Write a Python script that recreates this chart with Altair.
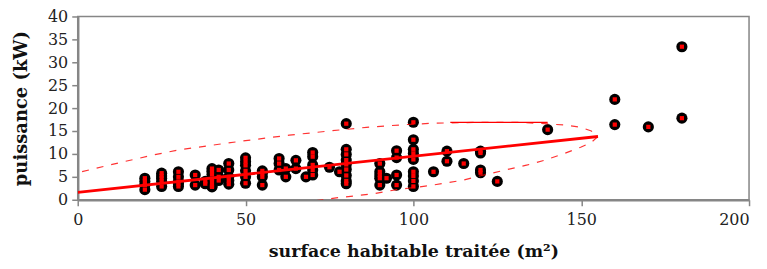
import altair as alt
import pandas as pd

# ---- data ----
surface = [
    20, 20, 20, 20,
    25, 25, 25, 25, 25,
    30, 30, 30, 30, 30,
    35, 35,
    38, 38,
    40, 40, 40, 40, 40, 40, 40,
    42, 42, 42,
    45, 45, 45, 45, 45,
    50, 50, 50, 50, 50, 50,
    55, 55, 55, 55,
    60, 60, 60,
    62, 62,
    65, 65,
    68,
    70, 70, 70, 70, 70,
    75, 78,
    80, 80, 80, 80, 80, 80, 80, 80, 80,
    90, 90, 90, 90, 90,
    92,
    95, 95, 95, 95,
    100, 100, 100, 100, 100, 100, 100, 100, 100,
    106,
    110, 110,
    115,
    120, 120, 120, 120,
    125,
    140,
    160, 160,
    170,
    180, 180,
]
puissance = [
    4.7, 3.2, 2.2, 4.0,
    5.8, 4.7, 4.0, 2.9, 5.2,
    6.1, 5.0, 4.0, 2.9, 3.5,
    5.4, 3.2,
    4.0, 3.5,
    6.8, 6.2, 5.5, 4.5, 3.8, 3.0, 2.8,
    6.5, 5.0, 4.2,
    7.9, 6.5, 5.0, 3.4, 4.2,
    9.15, 8.3, 7.5, 6.3, 5.0, 3.6,
    6.3, 5.0, 3.2, 5.8,
    9.0, 7.9, 6.5,
    6.8, 5.0,
    8.6, 6.8,
    5.0,
    10.3, 9.4, 7.6, 5.4, 6.5,
    7.1, 6.1,
    16.6, 11.0, 9.9, 8.65, 7.7, 6.6, 5.3, 4.1, 3.5,
    7.9, 6.1, 5.4, 4.7, 3.2,
    4.7,
    10.7, 9.2, 5.4, 3.2,
    16.9, 13.1, 11.0, 10.1, 8.8, 6.1, 5.2, 4.1, 2.9,
    6.1,
    10.6, 8.4,
    7.9,
    10.6, 10.2, 6.5, 5.9,
    4.0,
    15.3,
    21.9, 16.4,
    15.9,
    33.4, 17.8,
]

# regression line end points
reg_x = [0, 155]
reg_y = [1.6, 13.8]

# dashed ellipse outline
ell_x = [-3, 0, 12.5, 23.4, 30.3, 41, 50, 63, 75, 86, 97.5, 106, 120, 132, 139, 145, 150, 153, 155,
         153, 150, 145, 139, 134, 121, 115, 105, 95, 88, 77, 68]
ell_y = [5.3, 5.9, 8.1, 9.9, 10.9, 12.0, 12.9, 14.1, 15.0, 15.8, 16.4, 16.7, 16.9, 16.9, 16.6, 16.3, 15.8, 15.0, 13.8,
         12.5, 11.5, 10.1, 8.6, 7.6, 5.4, 4.3, 3.1, 2.2, 1.3, 0.4, -0.5]

# short solid segment on top of the ellipse
seg_x = [111, 140]
seg_y = [16.9, 16.9]

x_ticks = [0, 50, 100, 150, 200]
y_ticks = [0, 5, 10, 15, 20, 25, 30, 35, 40]

pts = pd.DataFrame({"x": surface, "y": puissance})
reg = pd.DataFrame({"x": reg_x, "y": reg_y})
ell = pd.DataFrame({"x": ell_x, "y": ell_y, "i": list(range(len(ell_x)))})
seg = pd.DataFrame({"x": seg_x, "y": seg_y})

FONT = "DejaVu Serif"
GREY = "#868686"

xscale = alt.Scale(domain=[0, 200], nice=False)
yscale = alt.Scale(domain=[0, 40], nice=False)

xaxis = alt.Axis(values=x_ticks, tickCount=len(x_ticks) + 1, title="surface habitable traitée (m²)",
                 grid=False, domainColor=GREY, domainWidth=2.5,
                 tickColor=GREY, tickWidth=1.5, tickSize=6,
                 labelFont=FONT, labelFontSize=16, labelColor="#222222",
                 labelPadding=6, labelFlush=False, labelOverlap=False,
                 labelAlign=alt.expr("datum.value == 200 ? 'right' : 'center'"),
                 titleFont=FONT, titleFontSize=17.5, titleFontWeight="bold",
                 titleColor="#111111", titleY=52, titleBaseline="middle")
yaxis = alt.Axis(values=y_ticks, tickCount=len(y_ticks) + 1, title="puissance (kW)",
                 grid=False, domainColor=GREY, domainWidth=2.5,
                 tickColor=GREY, tickWidth=1.5, tickSize=6,
                 labelFont=FONT, labelFontSize=16, labelColor="#222222",
                 labelPadding=4, labelFlush=False, labelOverlap=False,
                 titleFont=FONT, titleFontSize=18, titleFontWeight="bold",
                 titleColor="#111111", titleX=-56, titleY=92,
                 titleAngle=270, titleAlign="center", titleBaseline="middle")

X = alt.X("x:Q", scale=xscale, axis=xaxis)
Y = alt.Y("y:Q", scale=yscale, axis=yaxis)

ellipse = alt.Chart(ell).mark_line(color="#ff0000", strokeWidth=1.2, strokeDash=[7, 8],
                                   opacity=0.8, clip=True).encode(x=X, y=Y, order="i:Q")

segment = alt.Chart(seg).mark_line(color="#ff0000", strokeWidth=1.2, clip=True).encode(x=X, y=Y)

regline = alt.Chart(reg).mark_line(color="#ff0000", strokeWidth=2.8, clip=True).encode(x=X, y=Y)

outer = alt.Chart(pts).mark_point(shape="circle", filled=True, color="#000000",
                                  size=125, opacity=1).encode(x=X, y=Y)
inner = alt.Chart(pts).mark_point(shape="square", filled=True, color="#ff0000",
                                  size=18, opacity=1).encode(x=X, y=Y)

chart = alt.layer(outer, ellipse, segment, regline, inner).properties(
    width=674, height=184,
    autosize=alt.AutoSizeParams(type="none"),
    padding={"left": 70, "top": 8, "right": 10, "bottom": 60},
    background="white",
).configure_view(stroke=GREY, strokeWidth=1.5)

chart.save("out.html", embed_options={"renderer": "svg", "actions": False})
